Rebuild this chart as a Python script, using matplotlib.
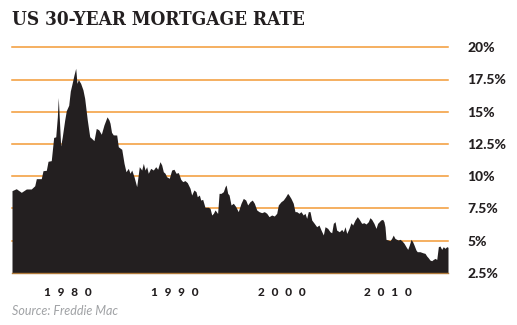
import matplotlib
matplotlib.use("Agg")
import matplotlib.pyplot as plt

# ---- data ----
years = [1976.32, 1976.69, 1977.13, 1977.57, 1978.00, 1978.30, 1978.44, 1978.87, 1979.02, 1979.31,
         1979.46, 1979.74, 1979.95, 1980.13, 1980.27, 1980.35, 1980.48, 1980.56, 1980.70, 1980.91,
         1981.05, 1981.26, 1981.40, 1981.57, 1981.72, 1981.87, 1981.98, 1982.10, 1982.30, 1982.50,
         1982.65, 1982.88, 1983.09, 1983.29, 1983.46, 1983.66, 1983.87, 1984.10, 1984.33, 1984.60,
         1984.77, 1984.86, 1984.99, 1985.14, 1985.44, 1985.58, 1985.88, 1986.08, 1986.25, 1986.45,
         1986.60, 1986.75, 1986.95, 1987.18, 1987.41, 1987.62, 1987.76, 1987.91, 1988.05, 1988.19,
         1988.40, 1988.63, 1988.84, 1989.01, 1989.21, 1989.36, 1989.50, 1989.65, 1989.79, 1990.02,
         1990.23, 1990.43, 1990.61, 1990.81, 1991.02, 1991.19, 1991.39, 1991.59, 1991.83, 1991.97,
         1992.17, 1992.35, 1992.46, 1992.64, 1992.76, 1992.93, 1993.13, 1993.42, 1993.57, 1993.72,
         1993.86, 1994.01, 1994.23, 1994.36, 1994.53, 1994.73, 1994.88, 1994.97, 1995.11, 1995.23,
         1995.40, 1995.60, 1995.81, 1996.03, 1996.27, 1996.47, 1996.68, 1996.85, 1997.05, 1997.25,
         1997.43, 1997.64, 1997.84, 1998.07, 1998.30, 1998.51, 1998.71, 1998.94, 1999.17, 1999.38,
         1999.52, 1999.75, 1999.95, 2000.16, 2000.33, 2000.44, 2000.62, 2000.82, 2000.97, 2001.12,
         2001.32, 2001.49, 2001.69, 2001.84, 2001.99, 2002.13, 2002.28, 2002.43, 2002.65, 2002.86,
         2003.06, 2003.24, 2003.44, 2003.59, 2003.82, 2004.02, 2004.17, 2004.31, 2004.46, 2004.60,
         2004.83, 2005.04, 2005.18, 2005.33, 2005.48, 2005.68, 2005.85, 2006.00, 2006.20, 2006.40,
         2006.57, 2006.78, 2006.98, 2007.16, 2007.36, 2007.50, 2007.65, 2007.85, 2008.03, 2008.17,
         2008.31, 2008.44, 2008.61, 2008.72, 2008.81, 2008.90, 2009.10, 2009.25, 2009.39, 2009.53,
         2009.68, 2009.83, 2009.97, 2010.12, 2010.27, 2010.47, 2010.64, 2010.79, 2010.93, 2011.08,
         2011.22, 2011.34, 2011.51, 2011.62, 2011.86, 2012.10, 2012.30, 2012.44, 2012.58, 2012.73,
         2012.88, 2013.02, 2013.17, 2013.32, 2013.46, 2013.60, 2013.75, 2013.89, 2014.04, 2014.19,
         2014.30]
rates = [8.87, 9.02, 8.74, 9.00, 9.00, 9.25, 9.80, 9.80, 10.42, 10.45,
         11.15, 11.20, 13.00, 13.05, 14.60, 16.10, 13.80, 12.34, 13.05, 14.35,
         15.08, 15.50, 16.60, 17.25, 17.85, 18.37, 17.20, 17.50, 17.20, 16.70,
         16.04, 14.35, 13.06, 12.90, 12.75, 13.70, 13.60, 13.25, 13.97, 14.60,
         14.35, 14.10, 13.40, 13.20, 13.19, 12.28, 12.08, 10.99, 10.34, 10.60,
         10.22, 10.47, 9.95, 9.18, 10.73, 10.47, 10.99, 10.47, 10.73, 10.22,
         10.60, 10.47, 10.73, 10.53, 11.12, 10.86, 10.34, 10.22, 9.95, 9.83,
         10.47, 10.53, 10.22, 10.27, 9.75, 9.57, 9.65, 9.49, 9.05, 8.53,
         8.92, 8.79, 8.40, 8.53, 8.14, 8.19, 7.58, 7.58, 7.50, 6.98,
         7.11, 7.37, 7.10, 8.66, 8.66, 8.79, 9.18, 9.31, 8.66, 8.53,
         7.76, 7.89, 7.63, 7.24, 7.89, 8.27, 8.14, 7.76, 8.01, 8.14,
         7.89, 7.37, 7.24, 7.16, 7.24, 7.11, 6.85, 6.98, 6.90, 7.11,
         7.76, 8.01, 8.14, 8.40, 8.66, 8.53, 8.27, 7.89, 7.24, 7.24,
         7.11, 7.24, 6.98, 7.11, 6.72, 7.24, 7.24, 6.59, 6.33, 6.07,
         6.20, 5.81, 5.43, 6.07, 5.94, 5.68, 5.60, 6.33, 6.46, 5.81,
         5.68, 5.86, 5.68, 6.07, 5.55, 5.94, 6.38, 6.20, 6.59, 6.85,
         6.64, 6.33, 6.38, 6.28, 6.46, 6.77, 6.64, 6.33, 5.94, 6.33,
         6.46, 6.59, 6.64, 6.46, 6.07, 5.09, 5.04, 4.99, 5.16, 5.42,
         5.16, 5.09, 5.04, 5.09, 4.99, 4.78, 4.52, 4.31, 4.65, 5.09,
         4.90, 4.65, 4.26, 4.13, 4.13, 4.05, 4.00, 3.80, 3.66, 3.48,
         3.43, 3.53, 3.61, 3.53, 4.52, 4.57, 4.31, 4.52, 4.39, 4.52,
         4.47]
ytick_values = [2.5, 5, 7.5, 10, 12.5, 15, 17.5, 20]
ytick_labels = ["2.5%", "5%", "7.5%", "10%", "12.5%", "15%", "17.5%", "20%"]
xtick_labels = ["1980", "1990", "2000", "2010"]
xtick_positions = [1981.2, 1990.5, 1999.8, 2009.1]

title = "US 30-YEAR MORTGAGE RATE"
source = "Source: Freddie Mac"

# ---- style ----
W, H = 517, 325
DARK = "#231f20"
ORANGE = "#f39a35"
GREY = "#a0a2a5"

fig = plt.figure(figsize=(W / 100, H / 100), dpi=100)
fig.patch.set_facecolor("white")
ax = fig.add_axes([12 / W, 1 - 272.7 / H, 436 / W, (272.7 - 47.3) / H])
ax.set_xlim(years[0], years[-1])
ax.set_ylim(ytick_values[0], ytick_values[-1])

for v in ytick_values[1:]:
    ax.axhline(v, color=ORANGE, lw=1.1, zorder=1, clip_on=False)
ax.fill_between(years, rates, ytick_values[0], color=DARK, lw=0, zorder=2)
ax.axhline(ytick_values[0], color="#b07a3a", lw=1.0, zorder=3, clip_on=False)

for s in ax.spines.values():
    s.set_visible(False)

ax.yaxis.tick_right()
ax.set_yticks(ytick_values)
ax.set_yticklabels(ytick_labels, fontfamily="Lato", fontweight="black",
                   fontsize=10, color=DARK, ha="left")
ax.tick_params(axis="y", length=0, pad=14)

ax.set_xticks(xtick_positions)
ax.set_xticklabels(["\u2007".join(t) for t in xtick_labels], fontfamily="Lato",
                   fontweight="black", fontsize=8.5, color=DARK)
ax.tick_params(axis="x", length=0, pad=10)

fig.text(12 / W, 1 - 20 / H, title, fontfamily="DejaVu Serif", fontstretch="condensed",
         fontweight="bold", fontsize=13.6, color=DARK, va="center", ha="left")
fig.text(12 / W, 1 - 311 / H, source, fontfamily="Lato", style="italic",
         fontweight="normal", fontsize=9, color=GREY, va="center", ha="left")

fig.savefig("out.png", dpi=100, facecolor="white")
